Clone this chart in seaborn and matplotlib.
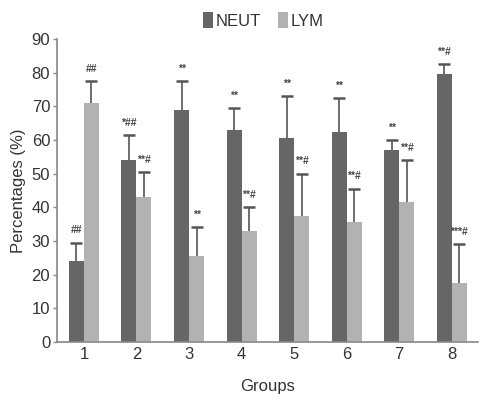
import matplotlib
matplotlib.use("Agg")
import matplotlib.pyplot as plt
import numpy as np
import pandas as pd
import seaborn as sns

groups = ["1", "2", "3", "4", "5", "6", "7", "8"]
neut = [24.0, 54.0, 69.0, 63.0, 60.5, 62.5, 57.0, 79.5]
neut_err = [5.5, 7.5, 8.5, 6.5, 12.5, 10.0, 3.0, 3.0]
lym = [71.0, 43.0, 25.5, 33.0, 37.5, 35.5, 41.5, 17.5]
lym_err = [6.5, 7.5, 8.5, 7.0, 12.5, 10.0, 12.5, 11.5]
neut_marks = ["##", "*##", "**", "**", "**", "**", "**", "**#"]
lym_marks = ["##", "**#", "**", "**#", "**#", "**#", "**#", "***#"]

df = pd.DataFrame({
    "Groups": groups * 2,
    "value": neut + lym,
    "cell": ["NEUT"] * 8 + ["LYM"] * 8,
})

sns.set_style("white")
plt.rcParams["font.family"] = ["Liberation Sans", "DejaVu Sans"]

fig = plt.figure(figsize=(4.8, 3.98), dpi=100)
ax = fig.add_axes([0.119, 0.141, 0.877, 0.761])

palette = {"NEUT": "#666666", "LYM": "#b2b2b2"}
sns.barplot(data=df, x="Groups", y="value", hue="cell", palette=palette,
            width=0.57, errorbar=None, saturation=1, linewidth=0, ax=ax, legend=True)

# upward-only error bars and significance marks
for cont, vals, errs, marks in zip(ax.containers, [neut, lym],
                                   [neut_err, lym_err], [neut_marks, lym_marks]):
    xs = [p.get_x() + p.get_width() / 2 for p in cont.patches]
    eb = ax.errorbar(xs, vals, yerr=[np.zeros(len(vals)), errs], fmt="none",
                     ecolor="#555555", elinewidth=1.2, capsize=4, capthick=1.8)
    eb[1][0].set_visible(False)  # drop the lower cap
    for x, v, e, m in zip(xs, vals, errs, marks):
        ax.text(x, v + e + 2.2, m, ha="center", va="bottom", fontsize=7.5,
                fontweight="bold", color="#444444")

ax.set_ylim(0, 90)
ax.set_xlim(-0.51, 7.5)
ax.set_yticks(range(0, 91, 10))
ax.set_xlabel("Groups", fontsize=12, color="#333333", labelpad=12)
ax.set_ylabel("Percentages (%)", fontsize=12, color="#333333")
ax.tick_params(axis="y", length=3, width=1, color="#888888", labelsize=12,
               labelcolor="#333333", left=True, pad=2)
ax.tick_params(axis="x", length=0, labelsize=12, labelcolor="#333333", pad=4)
sns.despine(ax=ax)
for s in ["left", "bottom"]:
    ax.spines[s].set_color("#888888")
    ax.spines[s].set_linewidth(1.2)

leg = ax.legend(loc="lower center", bbox_to_anchor=(0.49, 1.0), ncol=2,
                frameon=False, fontsize=12, handlelength=0.6, handleheight=1.1,
                handletextpad=0.15, columnspacing=1.0, borderaxespad=0.2)
for t in leg.get_texts():
    t.set_color("#333333")

fig.savefig("out.png", dpi=100)
